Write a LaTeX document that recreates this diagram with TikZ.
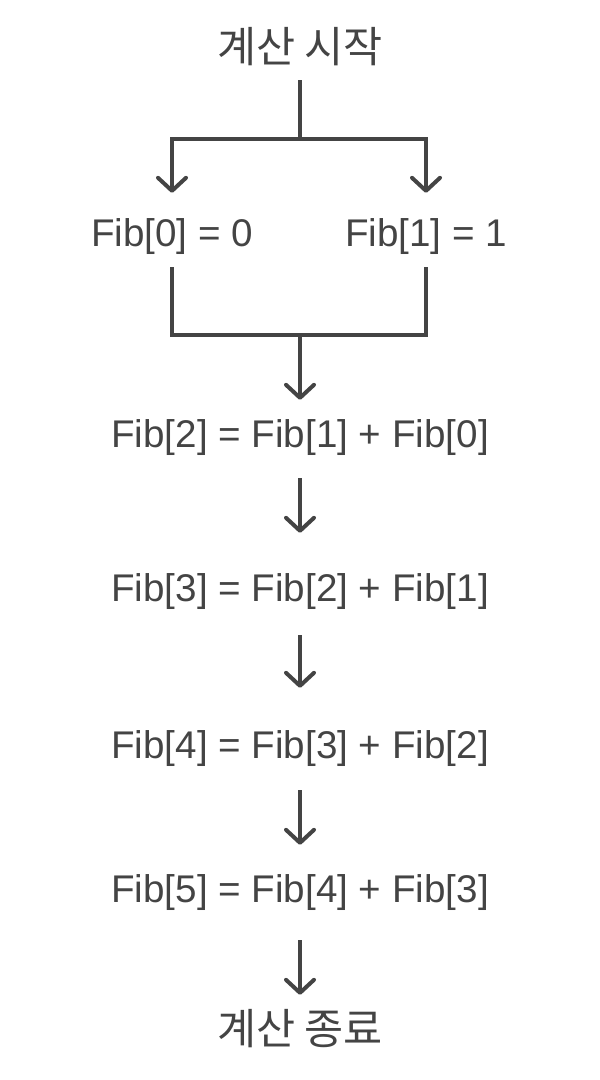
\documentclass[tikz,border=0pt]{standalone}
\usepackage{fontspec}
\setmainfont{Liberation Sans}
\newfontfamily\kofont{Noto Sans CJK KR}
\usetikzlibrary{arrows.meta}
\definecolor{inkgray}{RGB}{68,68,68}
\begin{document}
\begin{tikzpicture}[x=1pt, y=-1pt,
    label/.style={anchor=base, inner sep=0pt, text height=30pt, text depth=6pt,
        text=inkgray, font=\fontsize{38.6}{44}\selectfont},
    kolabel/.style={label, font=\kofont\fontsize{42.5}{48}\selectfont},
    conn/.style={draw=inkgray, line width=4pt},
    flow/.style={conn, -{Straight Barb[round, length=13pt, width=28pt]}}]
    \useasboundingbox (0,0) rectangle (600,1080);
    % Fibonacci steps
    \node[kolabel] (start) at (300,62) {계산 시작};
    \coordinate (split) at (300,139);
    \node[label] (f0) at (172,246) {Fib[0] = 0};
    \node[label] (f1) at (426,246) {Fib[1] = 1};
    \coordinate (merge) at (300,335);
    \node[label] (f2) at (300,447) {Fib[2] = Fib[1] + Fib[0]};
    \node[label] (f3) at (300,601) {Fib[3] = Fib[2] + Fib[1]};
    \node[label] (f4) at (300,758) {Fib[4] = Fib[3] + Fib[2]};
    \node[label] (f5) at (300,902) {Fib[5] = Fib[4] + Fib[3]};
    \node[kolabel] (stop) at (300,1044) {계산 종료};

    \draw[conn, shorten <=12pt] (start.south) -- (split);
    \draw[flow, shorten >=23pt] (split) -| (f0.north);
    \draw[flow, shorten >=23pt] (split) -| (f1.north);
    \draw[conn, shorten <=15pt] (f0.south) |- (merge);
    \draw[conn, shorten <=15pt] (f1.south) |- (merge);
    \draw[flow, shorten >=17pt] (merge) -- (f2.north);
    \draw[flow, shorten <=25pt, shorten >=38pt] (f2.south) -- (f3.north);
    \draw[flow, shorten <=28pt, shorten >=40pt] (f3.south) -- (f4.north);
    \draw[flow, shorten <=26pt, shorten >=27pt] (f4.south) -- (f5.north);
    \draw[flow, shorten <=32pt, shorten >=19pt] (f5.south) -- (stop.north);
\end{tikzpicture}
\end{document}
